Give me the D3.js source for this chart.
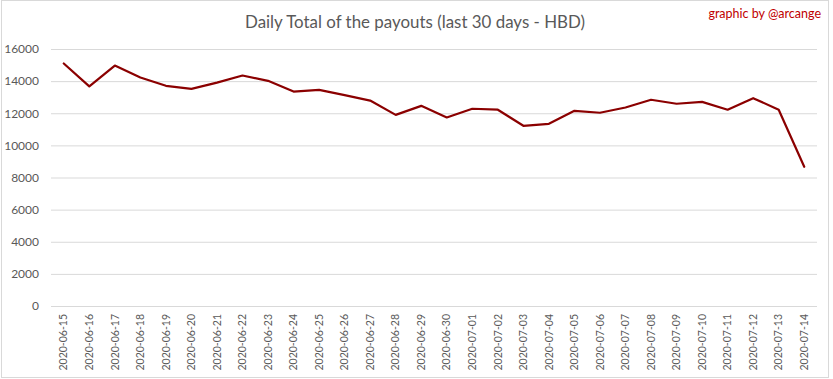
<!DOCTYPE html>
<html><head><meta charset="utf-8">
<script src="https://cdn.jsdelivr.net/npm/d3@7/dist/d3.min.js"></script>
<style>body{margin:0;background:#fff}svg{display:block}text{font-family:Lato,"Open Sans",sans-serif}</style>
</head><body><svg id="c" width="833" height="379"></svg>
<script>
const dates = ["2020-06-15","2020-06-16","2020-06-17","2020-06-18","2020-06-19","2020-06-20","2020-06-21","2020-06-22","2020-06-23","2020-06-24","2020-06-25","2020-06-26","2020-06-27","2020-06-28","2020-06-29","2020-06-30","2020-07-01","2020-07-02","2020-07-03","2020-07-04","2020-07-05","2020-07-06","2020-07-07","2020-07-08","2020-07-09","2020-07-10","2020-07-11","2020-07-12","2020-07-13","2020-07-14"];
const payouts = [15100,13670,14970,14230,13710,13520,13910,14350,14020,13350,13460,13130,12790,11900,12460,11740,12280,12220,11220,11340,12150,12030,12360,12840,12590,12710,12220,12940,12220,8670];
const yTicks = [0,2000,4000,6000,8000,10000,12000,14000,16000];
const title = "Daily Total of the payouts (last 30 days - HBD)";
const credit = "graphic by @arcange";

const svg = d3.select("#c");
const W = 833, H = 379;
const m = {left:51, right:16, top:49, bottom:73};
svg.append("rect").attr("x",1.5).attr("y",0.5).attr("width",827).attr("height",377)
  .attr("fill","#fff").attr("stroke","#d9d9d9");

const x = d3.scaleBand().domain(dates).range([m.left, W - m.right]);
const y = d3.scaleLinear().domain([0,16000]).range([H - m.bottom, m.top]);

const gy = svg.append("g").attr("transform",`translate(${m.left},0)`)
  .call(d3.axisLeft(y).tickValues(yTicks).tickSize(-(W - m.right - m.left)).tickPadding(12).tickFormat(d3.format("d")));
gy.select(".domain").remove();
gy.selectAll(".tick line").attr("stroke","#d9d9d9");
gy.selectAll(".tick text").attr("fill","#595959").style("font-size","12px");

const gx = svg.append("g").attr("transform",`translate(0,${H - m.bottom})`)
  .call(d3.axisBottom(x).tickSize(0).tickPadding(0));
gx.select(".domain").remove();
gx.selectAll(".tick text").attr("fill","#595959").style("font-size","10.5px")
  .attr("transform","rotate(-90)").attr("text-anchor","end").attr("dy","0.35em").attr("x",-8).attr("y",0);

const line = d3.line().x((d,i)=>x(dates[i]) + x.bandwidth()/2).y(d=>y(d));
svg.append("path").datum(payouts).attr("d",line).attr("fill","none")
  .attr("stroke","#8b0000").attr("stroke-width",2.2).attr("stroke-linejoin","round").attr("stroke-linecap","round");

svg.append("text").attr("x",415).attr("y",28).attr("text-anchor","middle")
  .attr("fill","#595959").style("font-size","17.5px")
  .attr("textLength",340).attr("lengthAdjust","spacingAndGlyphs").text(title);
svg.append("text").attr("x",821).attr("y",18).attr("text-anchor","end")
  .attr("fill","#c00000").style("font-size","12.5px").text(credit);
</script></body></html>
